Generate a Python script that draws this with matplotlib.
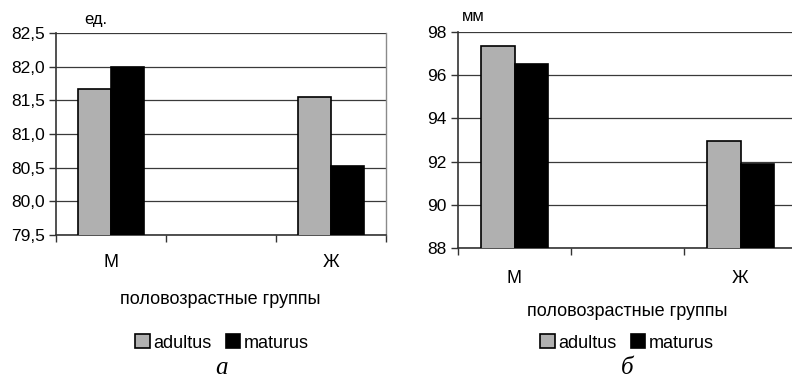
import numpy as np
import matplotlib
matplotlib.use("Agg")
import matplotlib.pyplot as plt
from matplotlib.ticker import FixedLocator, FuncFormatter

plt.rcParams['font.family'] = ['Liberation Sans', 'DejaVu Sans']

# Data: the middle category is an empty spacer slot
categories = ["М", "", "Ж"]
series_names = ["adultus", "maturus"]
index_a = [81.67, np.nan, 81.55]     # panel а, units "ед."
index_m = [82.00, np.nan, 80.53]
length_a = [97.37, np.nan, 92.97]    # panel б, units "мм"
length_m = [96.53, np.nan, 91.90]

yticks_a = [79.5, 80.0, 80.5, 81.0, 81.5, 82.0, 82.5]
yticks_b = [88, 90, 92, 94, 96, 98]

fig = plt.figure(figsize=(7.92, 3.82), dpi=100)
W, H = 792, 382


def px_axes(x0, y0, x1, y1):
    return fig.add_axes([x0 / W, 1 - y1 / H, (x1 - x0) / W, (y1 - y0) / H])


def draw_panel(ax, v1, v2, yticks, fmt, unit, unit_xy, cat_pad):
    x = np.arange(len(categories))
    bw = 0.3
    ax.bar(x - bw / 2, v1, bw, color="#b0b0b0", edgecolor="black", linewidth=1.2, zorder=3, label=series_names[0])
    ax.bar(x + bw / 2, v2, bw, color="black", edgecolor="black", linewidth=1.2, zorder=3, label=series_names[1])
    ax.set_xlim(-0.5, len(categories) - 0.5)
    ax.set_ylim(yticks[0], yticks[-1])
    ax.yaxis.set_major_locator(FixedLocator(yticks))
    ax.yaxis.set_major_formatter(FuncFormatter(fmt))
    ax.grid(axis="y", color="#3a3a3a", linewidth=0.9, zorder=0)
    # category boundaries as ticks, names centred in each slot
    ax.xaxis.set_major_locator(FixedLocator(np.arange(len(categories) + 1) - 0.5))
    ax.xaxis.set_major_formatter(FuncFormatter(lambda v, p: ""))
    ax.xaxis.set_minor_locator(FixedLocator(x))
    ax.set_xticklabels(categories, minor=True)
    ax.tick_params(axis="x", which="minor", length=0, pad=cat_pad, labelsize=13)
    ax.tick_params(axis="x", which="major", length=5, width=1, color="#333333", direction="out")
    ax.tick_params(axis="y", length=5, width=1, color="#333333", labelsize=12.5, pad=3)
    for s in ("left", "bottom"):
        ax.spines[s].set_color("#333333")
        ax.spines[s].set_linewidth(1.2)
    ax.spines["top"].set_visible(False)
    ax.spines["right"].set_color("#8a8a8a")
    ax.spines["right"].set_linewidth(1.0)
    ax.text(unit_xy[0], unit_xy[1], unit, transform=ax.transAxes, ha="center", va="center", fontsize=12)
    return ax


ax1 = px_axes(56, 33, 386, 235)
draw_panel(ax1, index_a, index_m, yticks_a,
           lambda v, p: f"{v:.1f}".replace(".", ","),
           "ед.", (0.12, 1.065), 14)

ax2 = px_axes(458, 32, 797, 248)
draw_panel(ax2, length_a, length_m, yticks_b,
           lambda v, p: f"{v:.0f}",
           "мм", (0.045, 1.07), 16)

# axis titles under each panel
fig.text(220 / W, 1 - 300 / H, "половозрастные группы", ha="center", va="center", fontsize=13)
fig.text(627 / W, 1 - 312 / H, "половозрастные группы", ha="center", va="center", fontsize=13)

# legends
for ax, cx in ((ax1, 222), (ax2, 627)):
    h, l = ax.get_legend_handles_labels()
    fig.legend(h, l, loc="center", bbox_to_anchor=(cx / W, 1 - 343 / H), ncol=2, frameon=False,
               fontsize=13, handlelength=0.8, handleheight=0.8, handletextpad=0.2, columnspacing=0.8)

# panel letters
fig.text(222 / W, 1 - 368 / H, "а", ha="center", va="center", fontsize=18, style="italic",
         family=["Liberation Serif", "DejaVu Serif"])
fig.text(627 / W, 1 - 368 / H, "б", ha="center", va="center", fontsize=18, style="italic",
         family=["Liberation Serif", "DejaVu Serif"])

fig.savefig("out.png", dpi=100)
